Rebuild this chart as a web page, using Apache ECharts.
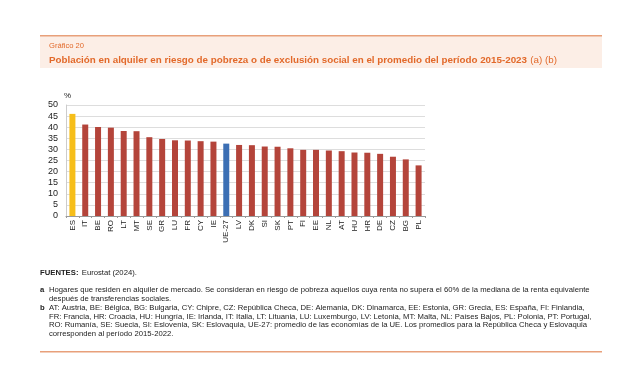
<!DOCTYPE html>
<html><head><meta charset="utf-8">
<script src="https://cdn.jsdelivr.net/npm/echarts@6/dist/echarts.min.js"></script>
<style>html,body{margin:0;padding:0;background:#fff}#c{width:640px;height:374px}</style>
</head><body><div id="c"></div>
<script>
const categories = ['ES','IT','BE','RO','LT','MT','SE','GR','LU','FR','CY','IE','UE-27','LV','DK','SI','SK','PT','FI','EE','NL','AT','HU','HR','DE','CZ','BG','PL'];
const values = [46.0,41.2,40.1,39.8,38.3,38.2,35.5,34.7,34.1,34.0,33.7,33.5,32.6,32.0,31.9,31.3,31.2,30.5,29.8,29.8,29.5,29.2,28.6,28.5,28.0,26.7,25.5,22.8];
const yTicks = [0,5,10,15,20,25,30,35,40,45,50];
const highlight = {'ES':'#F6BE1A','UE-27':'#3C6FB4'};
const baseColor = '#B4443A';
const FONT = '"Liberation Sans", Arial, Helvetica, sans-serif';
const ORANGE = '#E2692A';
const footA = 'Hogares que residen en alquiler de mercado. Se consideran en riesgo de pobreza aquellos cuya renta no supera el 60% de la mediana de la renta equivalente\ndespués de transferencias sociales.';
const footB = 'AT: Austria, BE: Bélgica, BG: Bulgaria, CY: Chipre, CZ: República Checa, DE: Alemania, DK: Dinamarca, EE: Estonia, GR: Grecia, ES: España, FI: Finlandia,\nFR: Francia, HR: Croacia, HU: Hungría, IE: Irlanda, IT: Italia, LT: Lituania, LU: Luxemburgo, LV: Letonia, MT: Malta, NL: Países Bajos, PL: Polonia, PT: Portugal,\nRO: Rumanía, SE: Suecia, SI: Eslovenia, SK: Eslovaquia, UE-27: promedio de las economías de la UE. Los promedios para la República Checa y Eslovaquia\ncorresponden al período 2015-2022.';
const FS = 7.7;

const chart = echarts.init(document.getElementById('c'), null, {renderer:'canvas'});
chart.setOption({
  animation:false,
  textStyle:{fontFamily:FONT},
  grid:{left:66,right:215,top:105,bottom:158,containLabel:false},
  xAxis:{type:'category',data:categories,
    axisLine:{lineStyle:{color:'#999',width:1}},
    axisTick:{show:true,length:2,lineStyle:{color:'#999'}},
    axisLabel:{rotate:90,fontSize:8,color:'#222',margin:4,interval:0,fontFamily:FONT}},
  yAxis:{type:'value',min:0,max:50,interval:5,
    name:'%',nameLocation:'end',nameGap:5,nameTextStyle:{fontSize:8,color:'#222',align:'left',padding:[0,0,0,-2]},
    axisLine:{show:true,lineStyle:{color:'#ccc'}},axisTick:{show:false},
    splitLine:{lineStyle:{color:'#ddd',width:1}},
    axisLabel:{fontSize:9,color:'#222',margin:8,fontFamily:FONT,formatter:v=>yTicks.includes(v)?String(v):''}},
  series:[{type:'bar',barWidth:6,
    data:values.map((v,i)=>({value:v,itemStyle:{color:highlight[categories[i]]||baseColor}}))}],
  graphic:[
    {type:'rect',shape:{x:40,y:36,width:562,height:32},style:{fill:'#FCEEE6'},silent:true},
    {type:'rect',shape:{x:40,y:35,width:562,height:1.5},style:{fill:'#E8A07A'},silent:true},
    {type:'text',left:49,top:42,style:{text:'Gráfico 20',fontSize:7.6,fill:ORANGE,fontFamily:FONT}},
    {type:'text',left:49,top:54,style:{text:'{b|Población en alquiler en riesgo de pobreza o de exclusión social en el promedio del período 2015-2023} {n|(a) (b)}',
      rich:{b:{fontSize:9.8,fontWeight:'bold',fill:ORANGE,fontFamily:FONT},n:{fontSize:9.8,fill:ORANGE,fontFamily:FONT}}}},
    {type:'text',left:40,top:267,style:{text:'{b|FUENTES:} {n|Eurostat (2024).}',rich:{b:{fontSize:FS,fontWeight:'bold',fill:'#222',fontFamily:FONT},n:{fontSize:FS,fill:'#222',fontFamily:FONT}}}},
    {type:'text',left:40,top:286,style:{text:'a',fontSize:FS,fontWeight:'bold',fill:'#222',fontFamily:FONT}},
    {type:'text',left:49,top:286,style:{text:footA,fontSize:FS,lineHeight:8.5,fill:'#222',fontFamily:FONT}},
    {type:'text',left:40,top:304,style:{text:'b',fontSize:FS,fontWeight:'bold',fill:'#222',fontFamily:FONT}},
    {type:'text',left:49,top:304,style:{text:footB,fontSize:FS,lineHeight:8.5,fill:'#222',fontFamily:FONT}},
    {type:'rect',shape:{x:40,y:351,width:562,height:1.5},style:{fill:'#E8A07A'},silent:true}
  ]
});
</script></body></html>
